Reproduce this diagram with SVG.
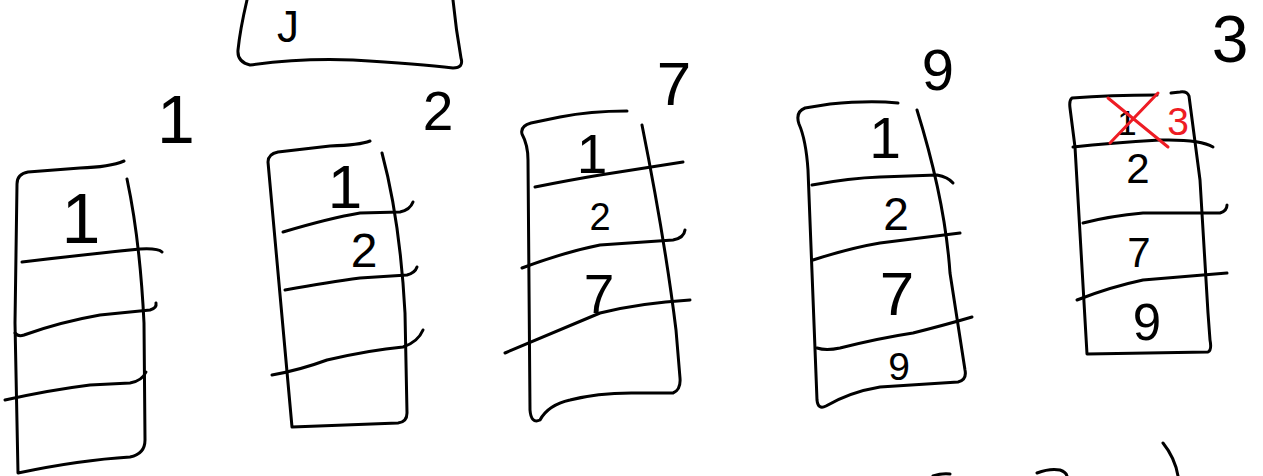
<svg xmlns="http://www.w3.org/2000/svg" width="1263" height="476" viewBox="0 0 1263 476">
<style>
.s{fill:none;stroke:#000;stroke-width:3;stroke-linecap:round;stroke-linejoin:round}
.r{fill:none;stroke:#ee1c24;stroke-width:3;stroke-linecap:round}
.t{font-family:"Liberation Sans",Arial,sans-serif;fill:#000;text-anchor:middle}
.tr{font-family:"Liberation Sans",Arial,sans-serif;fill:#ee1c24;text-anchor:middle}
</style>
<rect width="1263" height="476" fill="#fff"/>
<g id="top-box">
<path class="s" d="M247,0 Q240,30 238,50 Q237,62 250,65 Q300,58 353,60 Q420,64 453,68 Q464,68 461,58 Q456,30 453,0"/>
<text class="t" x="288" y="42" font-size="44">J</text>
</g>
<g id="stack-1">
<path class="s" d="M124,161 Q110,167 80,168 L28,172 Q17,174 17,184 L15,323 L18,473 Q80,460 130,457 Q145,454 145,440 L144,323 Q140,240 127,179"/>
<path class="s" d="M22,262 Q90,254 140,249 Q158,248 162,252"/>
<path class="s" d="M15,333 Q18,337 24,335 Q60,322 100,315 L150,310 Q157,308 156,303"/>
<path class="s" d="M5,400 Q50,390 90,385 L130,383 Q142,381 146,372"/>
<text class="t" x="81" y="243" font-size="70">1</text>
<text class="t" x="176" y="143" font-size="68">1</text>
</g>
<g id="stack-2">
<path class="s" d="M370,141 Q360,145 330,146 L278,152 Q268,154 268,162 L292,427 L398,423 Q407,422 407,413 L405,313 Q400,220 382,153"/>
<path class="s" d="M283,232 Q330,218 360,213 L400,212 Q410,210 413,202"/>
<path class="s" d="M285,290 Q330,282 360,278 L407,275 Q415,273 417,267"/>
<path class="s" d="M272,375 Q300,370 327,360 Q370,350 403,347 Q418,342 423,330"/>
<text class="t" x="345" y="208" font-size="62">1</text>
<text class="t" x="364" y="267" font-size="48">2</text>
<text class="t" x="438" y="130" font-size="55">2</text>
</g>
<g id="stack-3">
<path class="s" d="M627,111 Q590,111 560,117 L531,123 Q520,126 522,134 Q528,145 528,160 L530,410 Q531,424 540,420 Q548,405 570,400 Q600,392 640,393 L673,393 Q681,390 680,378 L676,330 Q665,240 642,125"/>
<path class="s" d="M535,187 Q570,180 600,175 L683,162"/>
<path class="s" d="M522,268 Q565,252 600,245 L673,240 Q684,238 685,230"/>
<path class="s" d="M505,353 Q560,330 600,313 Q640,303 690,300"/>
<text class="t" x="592" y="173" font-size="55">1</text>
<text class="t" x="600" y="230" font-size="38">2</text>
<text class="t" x="599" y="313" font-size="55">7</text>
<text class="t" x="674" y="105" font-size="62">7</text>
</g>
<g id="stack-4">
<path class="s" d="M898,103 Q870,100 830,104 L805,108 Q795,112 799,124 Q806,140 808,170 L817,400 Q818,410 826,406 Q850,392 880,387 L958,382 Q967,380 965,370 L950,273 Q945,200 917,110"/>
<path class="s" d="M812,185 Q850,178 880,177 L937,175 Q948,177 953,183"/>
<path class="s" d="M813,260 Q850,248 880,243 L960,233"/>
<path class="s" d="M817,348 Q826,351 840,348 Q880,338 913,333 Q945,325 972,317"/>
<text class="t" x="885" y="158" font-size="57">1</text>
<text class="t" x="896" y="230" font-size="46">2</text>
<text class="t" x="897" y="315" font-size="62">7</text>
<text class="t" x="899" y="380" font-size="39">9</text>
<text class="t" x="938" y="90" font-size="58">9</text>
</g>
<g id="stack-5">
<path class="s" d="M1157,95 Q1110,95 1072,98 Q1069,100 1070,108 L1075,147 L1087,354 L1208,352 Q1212,350 1210,340 L1208,313 L1200,180 L1189,96 Q1187,91 1180,92 L1171,93"/>
<path class="s" d="M1073,147 Q1110,143 1160,140 Q1200,139 1213,147"/>
<path class="s" d="M1083,223 Q1110,216 1143,213 L1220,213 Q1227,211 1227,205"/>
<path class="s" d="M1077,300 Q1110,287 1143,280 L1227,273"/>
<text class="t" x="1127" y="135" font-size="35">1</text>
<path class="r" d="M1108,98 L1168,147 M1110,143 L1158,93"/>
<text class="tr" x="1178" y="135" font-size="39">3</text>
<text class="t" x="1138" y="183" font-size="42">2</text>
<text class="t" x="1139" y="267" font-size="42">7</text>
<text class="t" x="1147" y="340" font-size="51">9</text>
<text class="t" x="1230" y="62" font-size="66">3</text>
</g>
<g id="connectors">
<path class="s" d="M933,476 Q942,473 950,474"/>
<path class="s" d="M1037,473 Q1050,468 1060,470 Q1066,472 1067,476"/>
<path class="s" d="M1163,443 Q1175,458 1178,476"/>
</g>
</svg>
